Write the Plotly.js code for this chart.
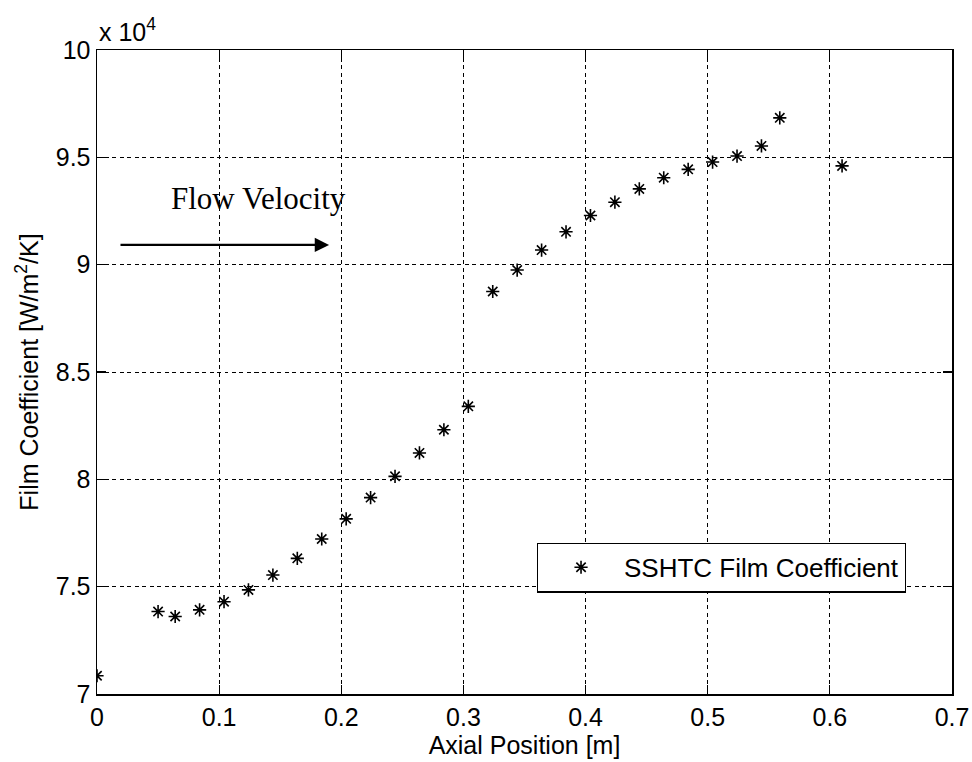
<!DOCTYPE html>
<html>
<head>
<meta charset="utf-8">
<script src="https://cdn.plot.ly/plotly-3.0.1.min.js"></script>
<style>html,body{margin:0;padding:0;background:#fff;}#chart{width:972px;height:762px;}</style>
</head>
<body>
<div id="chart"></div>
<script>
// Axial position [m]
var axialPosition = [0, 0.050, 0.064, 0.084, 0.104, 0.124, 0.144, 0.164, 0.184, 0.204,
  0.224, 0.244, 0.264, 0.284, 0.304, 0.324, 0.344, 0.364, 0.384, 0.404,
  0.424, 0.444, 0.464, 0.484, 0.504, 0.524, 0.544, 0.559, 0.610];
// Film coefficient [W/m^2/K], in units of 10^4
var filmCoefficient = [7.085, 7.384, 7.361, 7.392, 7.430, 7.485, 7.554, 7.632, 7.722, 7.816,
  7.915, 8.014, 8.123, 8.231, 8.340, 8.875, 8.975, 9.068, 9.153, 9.229,
  9.291, 9.353, 9.405, 9.444, 9.478, 9.506, 9.553, 9.684, 9.460];
var seriesName = 'SSHTC Film Coefficient';
var xTicks = [0, 0.1, 0.2, 0.3, 0.4, 0.5, 0.6, 0.7];
var xTickText = ['0', '0.1', '0.2', '0.3', '0.4', '0.5', '0.6', '0.7'];
var yTicks = [7, 7.5, 8, 8.5, 9, 9.5, 10];
var yTickText = ['7', '7.5', '8', '8.5', '9', '9.5', '10'];

var sans = 'Liberation Sans, Arial, sans-serif';
var trace = {
  x: axialPosition, y: filmCoefficient, type: 'scatter', mode: 'markers', name: seriesName,
  marker: {symbol: 'asterisk-open', size: 11, color: '#000', line: {color: '#000', width: 1.6}}
};
var axisCommon = {
  showline: true, linecolor: '#000', linewidth: 1.5, mirror: 'ticks',
  ticks: 'inside', ticklen: 9, tickwidth: 1.2, tickcolor: '#000',
  showgrid: true, gridcolor: '#000', gridwidth: 1, griddash: '4px,3.5px',
  zeroline: false, tickfont: {family: sans, size: 25, color: '#000'}
};
var layout = {
  width: 972, height: 762,
  margin: {l: 97, r: 20, t: 50, b: 68},
  paper_bgcolor: '#fff', plot_bgcolor: '#fff',
  showlegend: true,
  xaxis: Object.assign({}, axisCommon, {
    range: [0, 0.7], tickmode: 'array', tickvals: xTicks, ticktext: xTickText,
    title: {text: 'Axial Position [m]', font: {family: sans, size: 25, color: '#000'}, standoff: 6}
  }),
  yaxis: Object.assign({}, axisCommon, {
    range: [7, 10], tickmode: 'array', tickvals: yTicks, ticktext: yTickText,
    title: {text: 'Film Coefficient [W/m<sup>2</sup>/K]', font: {family: sans, size: 25, color: '#000'}, standoff: 10}
  }),
  legend: {
    x: 0.946, y: 0.235, xanchor: 'right', yanchor: 'top',
    bgcolor: '#fff', bordercolor: '#000', borderwidth: 1.2,
    font: {family: sans, size: 26, color: '#000'}, itemwidth: 76
  },
  annotations: [
    {xref: 'paper', yref: 'paper', x: 0, y: 1, xanchor: 'left', yanchor: 'bottom', yshift: 2,
     text: 'x 10<sup>4</sup>', showarrow: false, font: {family: sans, size: 25, color: '#000'}},
    {xref: 'x', yref: 'y', x: 0.1325, y: 9.31, text: 'Flow Velocity', showarrow: false,
     font: {family: 'Liberation Serif, Times New Roman, serif', size: 31, color: '#000'}},
    {xref: 'x', yref: 'y', x: 0.190, y: 9.092, axref: 'x', ayref: 'y', ax: 0.018, ay: 9.092,
     text: '', showarrow: true, arrowhead: 2, arrowsize: 1.3, arrowwidth: 2.2, arrowcolor: '#000', standoff: 0}
  ]
};
Plotly.newPlot('chart', [trace], layout, {displayModeBar: false, staticPlot: true});
</script>
</body>
</html>
